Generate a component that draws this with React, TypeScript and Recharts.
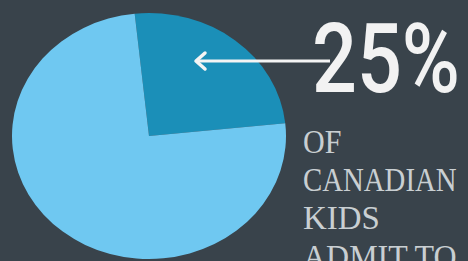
import { PieChart, Pie, Cell } from "recharts";

// share of kids (dark slice first, drawn from ~6deg counter-clockwise)
const labels = ["admit", "rest"];
const values = [25, 75];
const colors = ["#1b8fb8", "#6fc8f1"];
const textLines = ["OF", "CANADIAN", "KIDS", "ADMIT TO"];

const data = labels.map((name, i) => ({ name, value: values[i] }));

export default function App() {
  return (
    <div
      style={{
        position: "absolute",
        left: 0,
        top: 0,
        width: 468,
        height: 261,
        overflow: "hidden",
        background: "#39434b",
      }}
    >
      {/* pie, squashed a bit vertically like the original */}
      <div
        style={{
          position: "absolute",
          left: 9,
          top: -4,
          width: 280,
          height: 280,
          transform: "scaleY(0.898)",
          transformOrigin: "140px 140px",
        }}
      >
        <PieChart width={280} height={280}>
          <Pie
            data={data}
            dataKey="value"
            cx={135}
            cy={135}
            outerRadius={137}
            startAngle={6}
            endAngle={366}
            stroke="none"
            isAnimationActive={false}
          >
            {data.map((d, i) => (
              <Cell key={d.name} fill={colors[i]} />
            ))}
          </Pie>
        </PieChart>
      </div>

      {/* callout */}
      <svg
        width={468}
        height={261}
        style={{ position: "absolute", left: 0, top: 0 }}
      >
        <line x1={197} y1={61} x2={330} y2={61} stroke="#f4f4f4" strokeWidth={3} />
        <polyline
          points="205,53 196,61 205,69"
          fill="none"
          stroke="#f4f4f4"
          strokeWidth={3.5}
          strokeLinecap="round"
          strokeLinejoin="round"
        />
        <text
          x={312}
          y={92}
          fill="#f2f2f2"
          fontFamily="Roboto"
          fontWeight={500}
          fontSize={97}
          textLength={148}
          lengthAdjust="spacingAndGlyphs"
        >
          25%
        </text>
        {textLines.map((t, i) => (
          <text
            key={t}
            x={303}
            y={153 + i * 38.2}
            fill="#c9cfd2"
            fontFamily="Liberation Serif"
            fontSize={33}
            textLength={t.length * 19.2}
            lengthAdjust="spacingAndGlyphs"
          >
            {t}
          </text>
        ))}
      </svg>
    </div>
  );
}
